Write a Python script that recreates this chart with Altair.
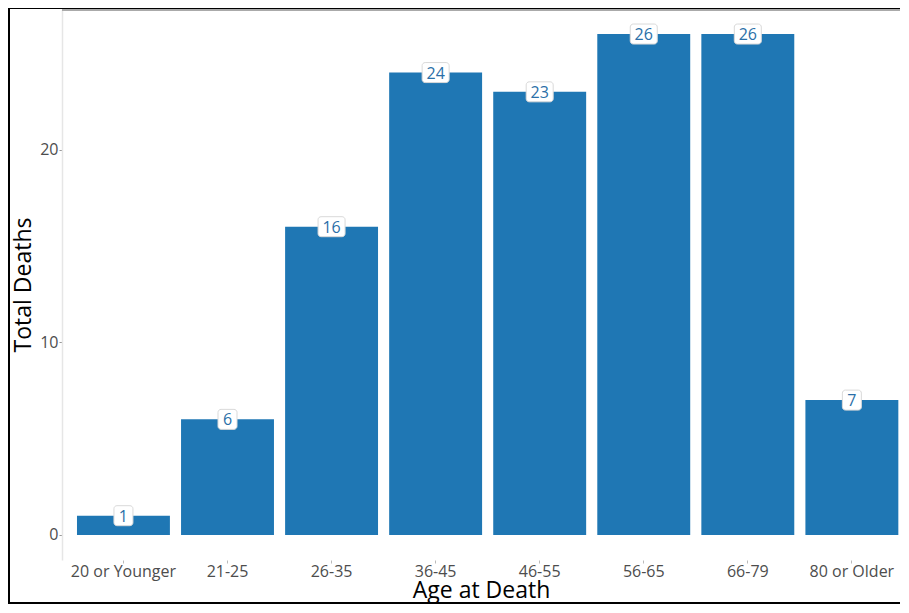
import altair as alt
import pandas as pd

categories = ["20 or Younger", "21-25", "26-35", "36-45", "46-55", "56-65", "66-79", "80 or Older"]
deaths = [1, 6, 16, 24, 23, 26, 26, 7]

df = pd.DataFrame({"age": categories, "deaths": deaths})
df["label"] = df["deaths"].astype(str)

PL, PT, PR, PB = 54, 1, 0, 45
W, H = 838, 551

FONT = "Open Sans"

x_scale = alt.Scale(paddingInner=0.107, paddingOuter=0.08, align=0.9, round=False)
x_enc = alt.X(
    "age:N",
    sort=categories,
    title="Age at Death",
    scale=x_scale,
    axis=alt.Axis(
        labelAngle=0, labelFontSize=16, labelColor="#4d4d4d", labelFont=FONT,
        tickSize=3, tickColor="#bbbbbb", domain=False, labelPadding=0,
        titleFont=FONT, titleFontSize=23, titleColor="#000000", titleFontWeight="normal",
        titlePadding=0,
    ),
)
y_scale = alt.Scale(domain=[-1.3, 27.3], nice=False, zero=False)
y_enc = alt.Y(
    "deaths:Q",
    title="Total Deaths",
    scale=y_scale,
    axis=alt.Axis(
        values=[0, 10, 20], grid=False, labelFontSize=16, labelColor="#4d4d4d", labelFont=FONT,
        tickSize=3, tickColor="#999999", domainColor="#e6e6e6", domainWidth=1.5,
        labelPadding=1, titleFont=FONT, titleFontSize=23, titleColor="#000000",
        titleFontWeight="normal", titlePadding=4,
    ),
)

base = alt.Chart(df)

bars = base.mark_bar(color="#1f77b4").encode(x=x_enc, y=y_enc, y2=alt.datum(0))

box_common = dict(fill="white", stroke="#d9d9d9", strokeWidth=1, cornerRadius=3, yOffset=-10, y2Offset=10)
box1 = base.transform_filter("datum.deaths < 10").mark_bar(width=19, **box_common).encode(
    x=alt.X("age:N", sort=categories, scale=x_scale), y=alt.Y("deaths:Q", scale=y_scale), y2="deaths:Q"
)
box2 = base.transform_filter("datum.deaths >= 10").mark_bar(width=27, **box_common).encode(
    x=alt.X("age:N", sort=categories, scale=x_scale), y=alt.Y("deaths:Q", scale=y_scale), y2="deaths:Q"
)
labels = base.mark_text(font=FONT, fontSize=16, color="#2b6fa8", baseline="middle", dy=1).encode(
    x=alt.X("age:N", sort=categories, scale=x_scale), y=alt.Y("deaths:Q", scale=y_scale), text="label:N"
)

top_line = base.mark_rule(color="#aaaaaa", strokeWidth=1.5).encode(
    x=alt.value(0), x2=alt.value(W + 10), y=alt.value(1)
)

frame = base.mark_rect(fill=None, stroke="black", strokeWidth=2, clip=False).encode(
    x=alt.value(-PL + 1), x2=alt.value(W + PR + 10),
    y=alt.value(-PT), y2=alt.value(H + PB - PT - 1),
)

chart = alt.layer(bars, box1, box2, labels, top_line, frame).properties(
    width=W, height=H,
    padding={"left": PL, "top": PT, "right": PR, "bottom": PB},
    autosize=alt.AutoSizeParams(type="none"),
    background="white",
).configure_view(stroke=None)

chart.save("out.html", embed_options={"renderer": "svg", "actions": False})
